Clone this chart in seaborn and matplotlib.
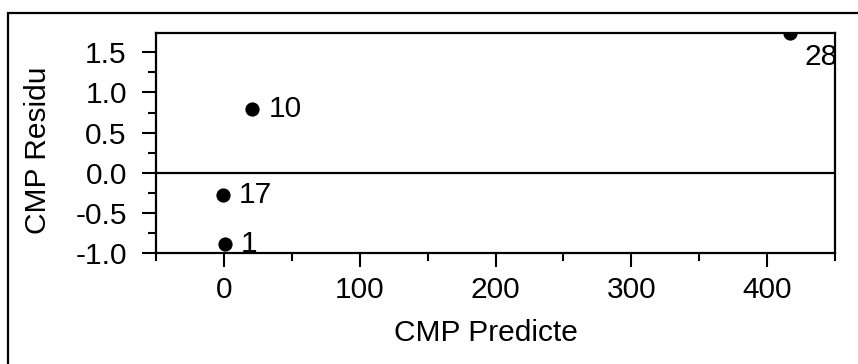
import matplotlib
matplotlib.use("Agg")
import matplotlib.pyplot as plt
from matplotlib.patches import Rectangle
from matplotlib.ticker import MultipleLocator
import pandas as pd
import seaborn as sns

# Observation numbers with predicted value and residual
obs_ids = ["1", "10", "17", "28"]
predicted = [1.0, 21.0, -0.5, 417.0]
residual = [-0.88, 0.79, -0.28, 1.74]

df = pd.DataFrame({"id": obs_ids, "pred": predicted, "resid": residual})

FS = 21.5

sns.set_theme(style="ticks")
plt.rcParams["font.family"] = ["Liberation Sans", "DejaVu Sans"]
plt.rcParams["font.size"] = FS

fig = plt.figure(figsize=(8.58, 3.64), dpi=100)
ax = fig.add_axes([156 / 858, 1 - 253.3 / 364, (835 - 156) / 858, (253.3 - 33) / 364])

sns.scatterplot(data=df, x="pred", y="resid", ax=ax, color="black",
                s=105, edgecolor="black", linewidth=0, zorder=3, legend=False)

ax.axhline(0, color="black", lw=1.6, zorder=2)

# Point labels: most to the right of the dot, the clipped top one below-right
offsets = {"1": (11.5, 0), "10": (11.5, 0), "17": (11.5, 0), "28": (10.5, -17)}
for name, xv, yv in zip(obs_ids, predicted, residual):
    ax.annotate(name, (xv, yv), xytext=offsets[name], textcoords="offset points",
                ha="left", va="center", fontsize=FS, color="black",
                annotation_clip=False, zorder=4)

ax.set_xlim(-50, 450)
ax.set_ylim(-1.0, 1.74)
ax.xaxis.set_major_locator(MultipleLocator(100))
ax.xaxis.set_minor_locator(MultipleLocator(50))
ax.yaxis.set_major_locator(MultipleLocator(0.5))
ax.yaxis.set_minor_locator(MultipleLocator(0.25))
ax.set_yticks([-1.0, -0.5, 0.0, 0.5, 1.0, 1.5])
ax.set_yticklabels(["-1.0", "-0.5", "0.0", "0.5", "1.0", "1.5"])

ax.tick_params(axis="both", which="major", direction="out", length=10, width=1.5,
               color="black", labelsize=FS, labelcolor="black")
ax.tick_params(axis="both", which="minor", direction="out", length=5.5, width=1.5,
               color="black")
ax.tick_params(axis="y", which="major", pad=11)
ax.tick_params(axis="x", which="major", pad=6)

for sp in ax.spines.values():
    sp.set_visible(True)
    sp.set_linewidth(1.6)
    sp.set_color("black")

ax.set_xlabel("")
ax.set_ylabel("")
fig.text(486 / 858, 1 - 333 / 364, "CMP Predicte", ha="center", va="center",
         fontsize=FS, color="black")
fig.text(38 / 858, 1 - 150 / 364, "CMP Residu", ha="center", va="center",
         rotation=90, fontsize=FS, color="black")

# Outer frame: only its left and top edges fall inside the image
fig.patches.append(Rectangle((8 / 858, -0.2), 1.2, 1.2 - 13 / 364,
                             transform=fig.transFigure, fill=False,
                             edgecolor="black", linewidth=1.6, zorder=0))

fig.savefig("out.png", dpi=100, facecolor="white")
